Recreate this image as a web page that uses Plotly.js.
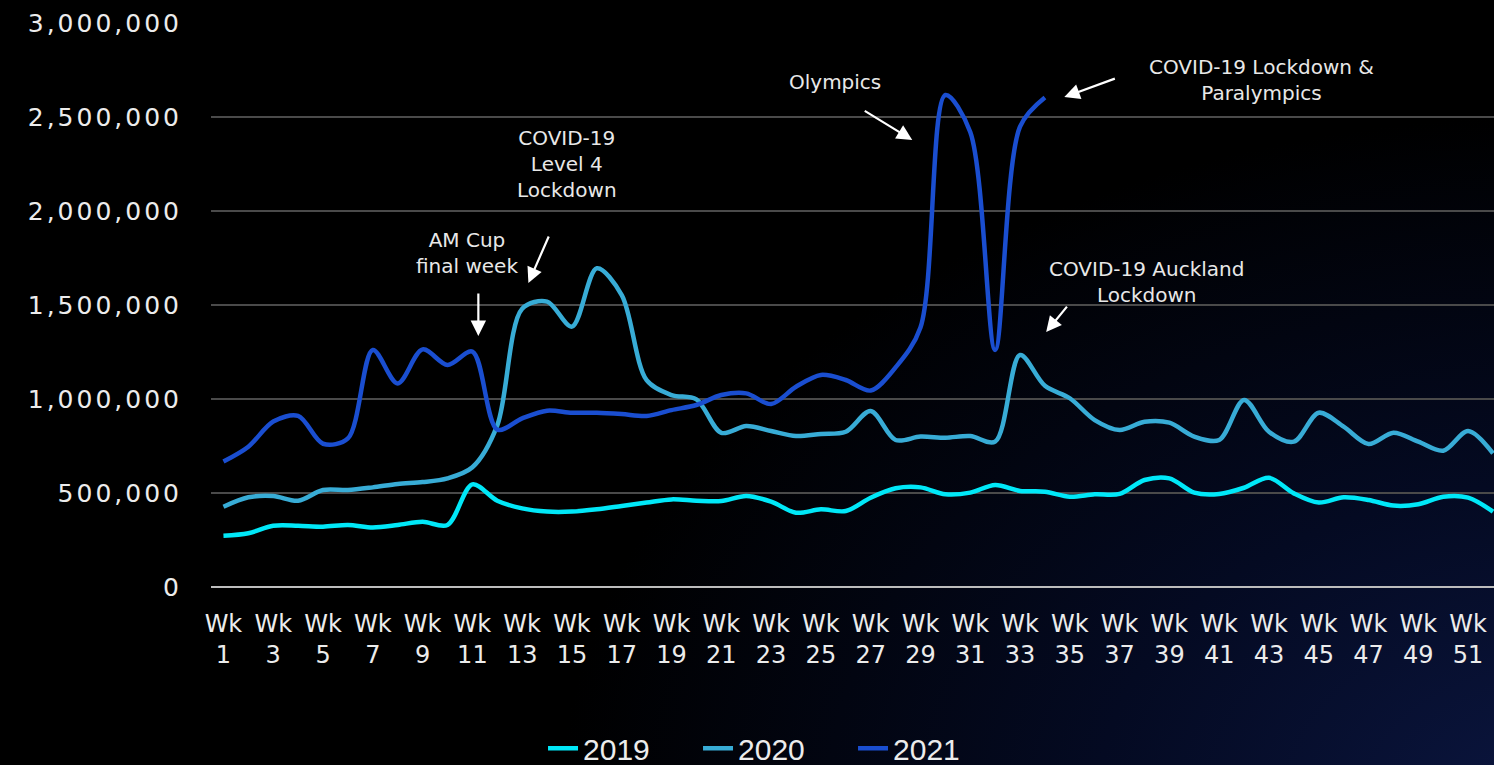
<!DOCTYPE html>
<html>
<head>
<meta charset="utf-8">
<script src="https://cdn.plot.ly/plotly-3.0.1.min.js"></script>
<style>
  html, body { margin:0; padding:0; width:1494px; height:765px; overflow:hidden;
    background: radial-gradient(ellipse 90% 120% at 105% 105%, #0b1640 0%, #040a22 35%, #000000 75%); }
  #chart { width:1494px; height:765px; }
  .ytick text { letter-spacing: 3px; }
</style>
</head>
<body>
<div id="chart"></div>
<script>
const weeks = ["Wk 1","Wk 2","Wk 3","Wk 4","Wk 5","Wk 6","Wk 7","Wk 8","Wk 9","Wk 10","Wk 11","Wk 12","Wk 13","Wk 14","Wk 15","Wk 16","Wk 17","Wk 18","Wk 19","Wk 20","Wk 21","Wk 22","Wk 23","Wk 24","Wk 25","Wk 26","Wk 27","Wk 28","Wk 29","Wk 30","Wk 31","Wk 32","Wk 33","Wk 34","Wk 35","Wk 36","Wk 37","Wk 38","Wk 39","Wk 40","Wk 41","Wk 42","Wk 43","Wk 44","Wk 45","Wk 46","Wk 47","Wk 48","Wk 49","Wk 50","Wk 51","Wk 52"];

const v2019 = [273000,286000,326000,326000,321000,330000,317000,330000,347000,330000,546000,459000,418000,401000,401000,413000,431000,449000,466000,459000,457000,484000,454000,395000,413000,404000,475000,525000,530000,493000,502000,543000,511000,507000,480000,493000,495000,569000,578000,502000,495000,528000,581000,498000,449000,477000,463000,433000,440000,480000,475000,401000];

const v2020 = [427000,477000,484000,459000,516000,516000,530000,548000,558000,578000,637000,860000,1480000,1518000,1385000,1695000,1553000,1100000,1021000,998000,820000,856000,830000,803000,814000,826000,936000,782000,800000,794000,803000,773000,1234000,1070000,1004000,888000,835000,879000,874000,800000,782000,995000,826000,773000,927000,853000,761000,821000,773000,725000,830000,711000];

const v2021 = [667000,746000,880000,910000,762000,790000,1261000,1083000,1264000,1181000,1252000,837000,897000,938000,927000,927000,920000,910000,941000,968000,1021000,1030000,973000,1065000,1128000,1101000,1045000,1168000,1380000,2617000,2420000,1261000,2449000,2604000];

const tickWeeks = weeks.filter((w, i) => i % 2 === 0);
const tickText = tickWeeks.map(w => w.replace(" ", "<br>"));

const font = "DejaVu Sans";
const mk = (name, y, color) => ({
  type: "scatter", mode: "lines", name: name,
  x: weeks.slice(0, y.length), y: y,
  line: { color: color, width: 4.5, shape: "spline", smoothing: 0.9 },
  hoverinfo: "skip"
});

const data = [
  mk("2019", v2019, "#00e8f8"),
  mk("2020", v2020, "#38acd6"),
  mk("2021", v2021, "#1a4ed0")
];

const txtFont = { family: font, size: 20, color: "#e8e8e8" };
const textAnn = (x, y, t) => ({ x: x, y: y, xref: "x", yref: "y", text: t, showarrow: false, font: txtFont, align: "center", xanchor: "center", yanchor: "middle" });
const arrAnn = (x, y, ax, ay) => ({ x: x, y: y, xref: "x", yref: "y", text: "", showarrow: true, ax: ax, ay: ay, arrowcolor: "#ffffff", arrowwidth: 2.2, arrowhead: 2, arrowsize: 1.4, standoff: 0, startstandoff: 0 });

const layout = {
  width: 1494, height: 765,
  paper_bgcolor: "rgba(0,0,0,0)", plot_bgcolor: "rgba(0,0,0,0)",
  margin: { l: 210.5, r: 0, t: 23, b: 178, autoexpand: false },
  showlegend: true,
  legend: { orientation: "h", x: 0.44, xanchor: "center", y: -0.24, yanchor: "top",
    font: { family: "Liberation Sans", size: 30, color: "#ececec" },
    entrywidth: 110, entrywidthmode: "pixels", bgcolor: "rgba(0,0,0,0)" },
  xaxis: {
    type: "category", range: [-0.5, 51.04], automargin: false,
    tickmode: "array", tickvals: tickWeeks, ticktext: tickText,
    tickfont: { family: font, size: 24, color: "#ececec" },
    ticks: "", showgrid: false, showline: false, zeroline: false,
    ticklabelstandoff: 20, fixedrange: true
  },
  yaxis: {
    range: [0, 3000000], tickmode: "array", automargin: false,
    tickvals: [0, 500000, 1000000, 1500000, 2000000, 2500000, 3000000],
    tickformat: ",d",
    tickfont: { family: font, size: 25, color: "#ececec" },
    showgrid: true, gridcolor: "#4a4a4a", gridwidth: 2,
    zeroline: true, zerolinecolor: "#bdbdbd", zerolinewidth: 2,
    showline: false, ticks: "", ticklabelstandoff: 28, fixedrange: true
  },
  annotations: [
    textAnn(9.8, 1776000, "AM Cup<br>final week"),
    textAnn(13.82, 2250000, "COVID-19<br>Level 4<br>Lockdown"),
    textAnn(24.58, 2686000, "Olympics"),
    textAnn(41.69, 2697000, "COVID-19 Lockdown &amp;<br>Paralympics"),
    textAnn(37.1, 1622000, "COVID-19 Auckland<br>Lockdown"),
    arrAnn(10.24, 1335000, 0, -44),
    arrAnn(12.25, 1617000, 21, -48),
    arrAnn(27.67, 2378000, -49, -30),
    arrAnn(33.78, 2606000, 52, -19),
    arrAnn(33.05, 1356000, 22, -27)
  ]
};

Plotly.newPlot("chart", data, layout, { displayModeBar: false, staticPlot: true });
</script>
</body>
</html>
